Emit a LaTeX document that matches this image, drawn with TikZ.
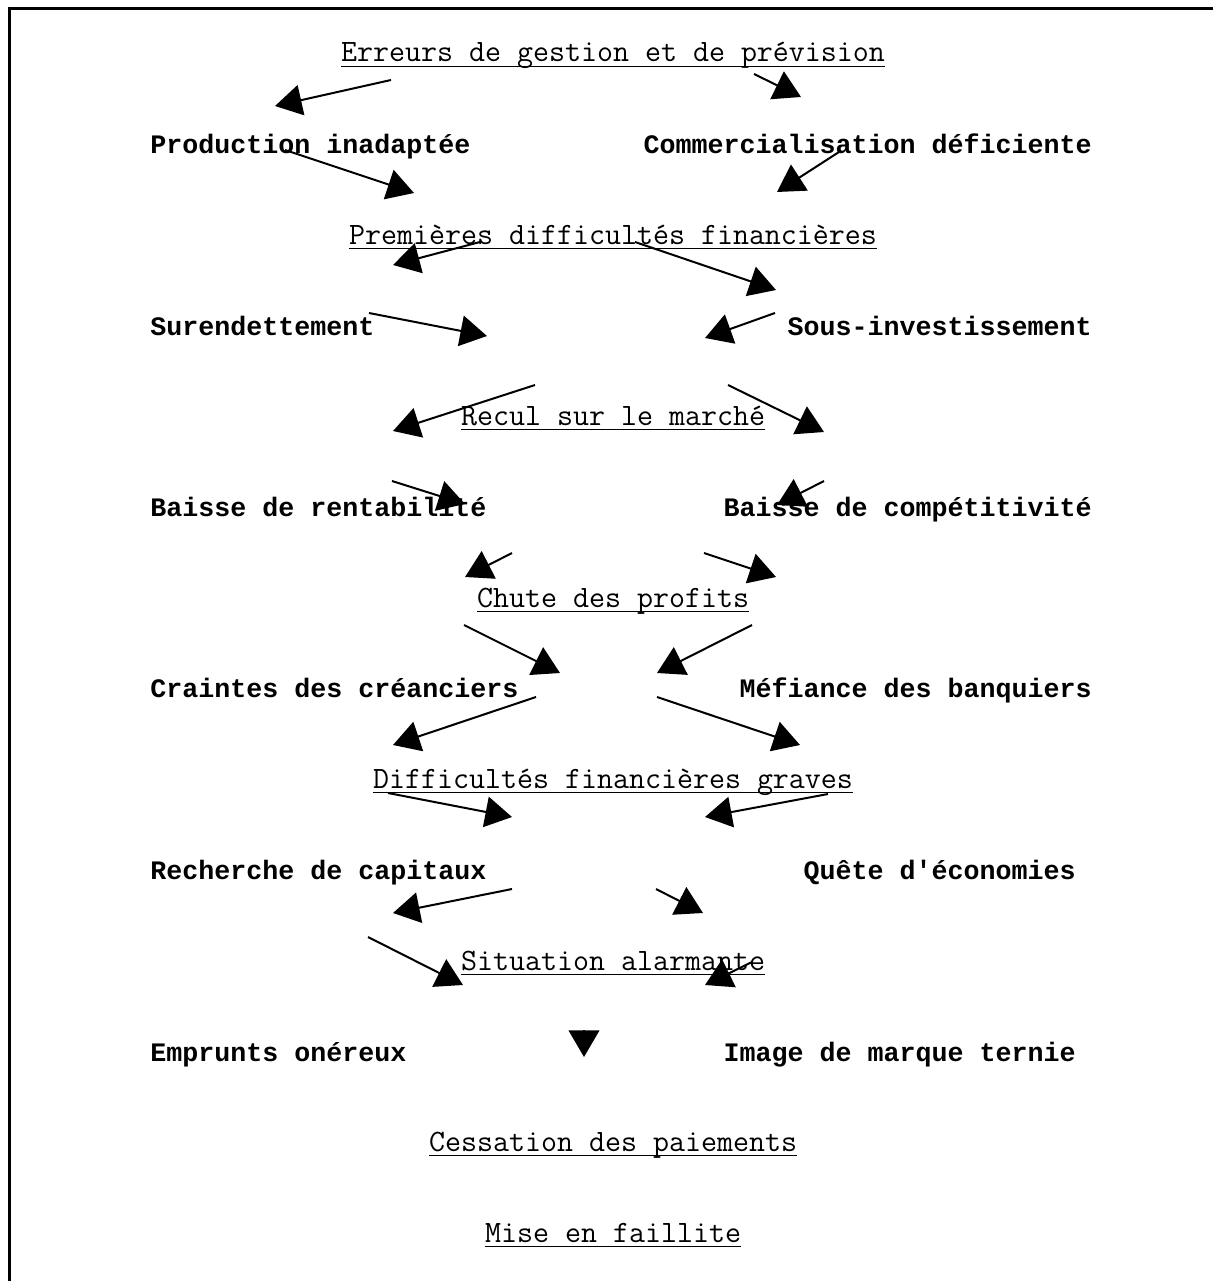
\documentclass[tikz,border=0pt]{standalone}
\usepackage{fontspec}
\usepackage{tikz}
\usetikzlibrary{arrows.meta}
\newfontfamily\courier[Ligatures=TeXOff]{Liberation Mono}
\newsavebox\ulbox
\newcommand{\ulin}[1]{\sbox\ulbox{#1}\rlap{\rule[-3.75pt]{\wd\ulbox}{0.9pt}}\usebox\ulbox}

\begin{document}
\begin{tikzpicture}[x=0.75pt,y=-0.75pt,
  stage/.style={font=\ttfamily\fontsize{23.3}{27}\selectfont,inner sep=0pt,anchor=base},
  cause/.style={font=\courier\fontsize{20}{24}\selectfont\bfseries,inner sep=0pt},
  arr/.style={line width=1.5pt,-{Triangle[length=20pt,width=23pt]}}]
  \useasboundingbox (0,0) rectangle (1213,1281);
  \draw[line width=2.25pt] (9,1281) -- (9,9) -- (1213,9);
  % stages, centre column
  \node[stage] (err) at (613,62) {\ulin{Erreurs de gestion et de prévision}};
  \node[stage] (prem) at (613,244) {\ulin{Premières difficultés financières}};
  \node[stage] (recul) at (613,425) {\ulin{Recul sur le marché}};
  \node[stage] (chute) at (613,607) {\ulin{Chute des profits}};
  \node[stage] (graves) at (613,788) {\ulin{Difficultés financières graves}};
  \node[stage] (alarm) at (613,970) {\ulin{Situation alarmante}};
  \node[stage] (cess) at (613,1151) {\ulin{Cessation des paiements}};
  \node[stage] (fail) at (613,1242) {\ulin{Mise en faillite}};
  % causes, left and right
  \node[cause,anchor=base west] (prod) at (150,153) {Production inadaptée};
  \node[cause,anchor=base east] (comm) at (1092,153) {Commercialisation déficiente};
  \node[cause,anchor=base west] (suren) at (150,335) {Surendettement};
  \node[cause,anchor=base east] (sousinv) at (1092,335) {Sous-investissement};
  \node[cause,anchor=base west] (rent) at (150,516) {Baisse de rentabilité};
  \node[cause,anchor=base east] (compet) at (1092,516) {Baisse de compétitivité};
  \node[cause,anchor=base west] (cranc) at (150,697) {Craintes des créanciers};
  \node[cause,anchor=base east] (banq) at (1092,697) {Méfiance des banquiers};
  \node[cause,anchor=base west] (capit) at (150,879) {Recherche de capitaux};
  \node[cause,anchor=base east] (econ) at (1076,879) {Quête d'économies};
  \node[cause,anchor=base west] (empr) at (150,1061) {Emprunts onéreux};
  \node[cause,anchor=base east] (image) at (1076,1061) {Image de marque ternie};
  % arrow ends (s = tail, t = tip)
  \foreach \n/\x/\y in {s1/391/80, t1/275/106, s2/754/74, t2/801/97,
      s3/285/150, t3/414/193, s4/839/152, t4/777/192,
      s5/480/242, t5/393/265, s6/635/242, t6/776/290,
      s7/369/313, t7/487/336, s8/775/313, t8/705/338,
      s9/535/385, t9/393/431, s10/728/385, t10/824/432,
      s11/392/481, t11/465/504, s12/824/481, t12/777/505,
      s13/512/553, t13/465/577, s14/704/553, t14/776/577,
      s15/464/625, t15/560/673, s16/752/625, t16/657/673,
      s17/536/697, t17/393/745, s18/657/697, t18/800/745,
      s19/388/793, t19/512/817, s20/828/794, t20/705/817,
      s21/512/889, t21/393/913, s22/656/889, t22/703/913,
      s23/368/937, t23/463/985, s24/752/962, t24/705/985,
      s25/584/1030, t25/584/1057}
    \coordinate (\n) at (\x,\y);
  \foreach \i in {1,...,25}
    \draw[arr] (s\i) -- (t\i);
\end{tikzpicture}
\end{document}
